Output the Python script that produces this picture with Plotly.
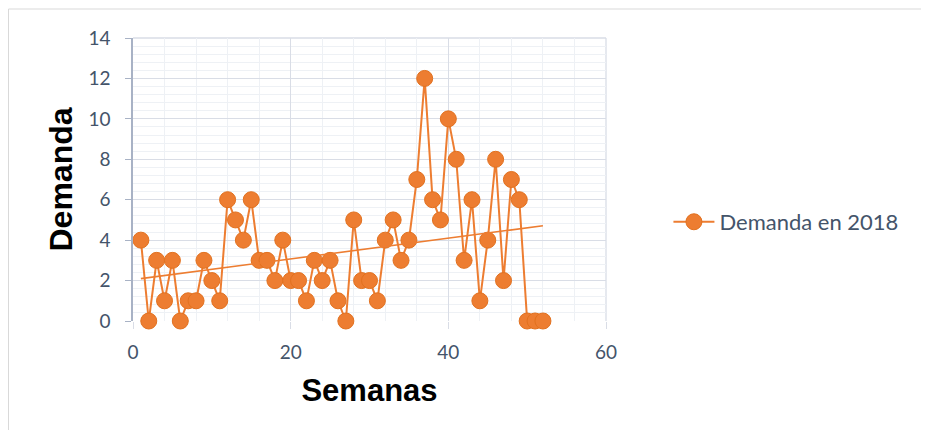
import numpy as np
import plotly.graph_objects as go

semanas = list(range(1, 53))
demanda = [4, 0, 3, 1, 3, 0, 1, 1, 3, 2,
           1, 6, 5, 4, 6, 3, 3, 2, 4, 2,
           2, 1, 3, 2, 3, 1, 0, 5, 2, 2,
           1, 4, 5, 3, 4, 7, 12, 6, 5, 10,
           8, 3, 6, 1, 4, 8, 2, 7, 6, 0,
           0, 0]
serie_nombre = "Demanda en 2018"
x_title = "Semanas"
y_title = "Demanda"

orange = "#ED7D31"
tick_color = "#44546A"

# linear trend from the data
coef = np.polyfit(semanas, demanda, 1)
trend_x = [semanas[0], semanas[-1]]
trend_y = [coef[0] * v + coef[1] for v in trend_x]

W, H = 913, 422
L, T, PW, PH = 125, 30, 473, 283

fig = go.Figure()
fig.add_trace(go.Scatter(
    x=semanas, y=demanda, mode="lines+markers", name=serie_nombre,
    line=dict(color=orange, width=2),
    marker=dict(size=16, color=orange, line=dict(color="#E2711F", width=1)),
    cliponaxis=False,
))
fig.add_trace(go.Scatter(
    x=trend_x, y=trend_y, mode="lines", showlegend=False,
    line=dict(color=orange, width=1.6), hoverinfo="skip",
))

fig.update_layout(
    width=W, height=H,
    margin=dict(l=L, r=W - L - PW, t=T, b=H - T - PH),
    paper_bgcolor="white", plot_bgcolor="white",
    font=dict(family="Lato, Carlito, Open Sans, sans-serif", color=tick_color, size=19),
    legend=dict(x=1.132, y=0.35, xanchor="left", yanchor="middle", itemwidth=41,
                font=dict(size=22, color=tick_color), bgcolor="rgba(0,0,0,0)"),
    xaxis=dict(
        range=[0, 60], tickvals=[0, 20, 40, 60], showgrid=True,
        gridcolor="#D9DDE6", gridwidth=1.3, zeroline=False,
        showline=False, ticks="outside", ticklen=7, tickcolor="#D9DDE6",
        tickwidth=1.3, ticklabelstandoff=7,
        minor=dict(dtick=4, showgrid=True, gridcolor="#EEF1F5", gridwidth=1),
        title=dict(text=x_title, font=dict(family="Liberation Sans, Arial", size=31, color="black", weight="bold"), standoff=17),
        tickfont=dict(size=19, color=tick_color),
    ),
    yaxis=dict(
        range=[0, 14], dtick=2, showgrid=True, gridcolor="#D9DDE6",
        gridwidth=1.3, zeroline=False, showline=True, linecolor="#A8B2C5",
        linewidth=1.5, ticks="outside", ticklen=6, tickcolor="#A8B2C5",
        ticklabelstandoff=11,
        minor=dict(dtick=0.4, showgrid=True, gridcolor="#EEF1F5", gridwidth=1),
        title=dict(text=y_title, font=dict(family="Liberation Sans, Arial", size=32, color="black", weight="bold"), standoff=6),
        tickfont=dict(size=19, color=tick_color),
    ),
    shapes=[
        dict(type="line", xref="paper", yref="paper",
             x0=(0.5 - L) / PW, x1=(W + 20 - L) / PW,
             y0=(T + PH - 1) / PH, y1=(T + PH - 1) / PH,
             line=dict(color="#D9D9D9", width=1), layer="below"),
        dict(type="line", xref="paper", yref="paper",
             x0=(0.5 - L) / PW, x1=(0.5 - L) / PW,
             y0=-(H + 20 - T - PH) / PH, y1=(T + PH - 1) / PH,
             line=dict(color="#D9D9D9", width=1), layer="below"),
        dict(type="line", xref="paper", yref="paper", x0=1, x1=1, y0=0, y1=1,
             line=dict(color="#D9DDE6", width=1.3), layer="below"),
        dict(type="line", xref="paper", yref="paper", x0=0, x1=1, y0=1, y1=1,
             line=dict(color="#D9DDE6", width=1.3), layer="below"),
    ],
)

fig.write_html("out.html")
